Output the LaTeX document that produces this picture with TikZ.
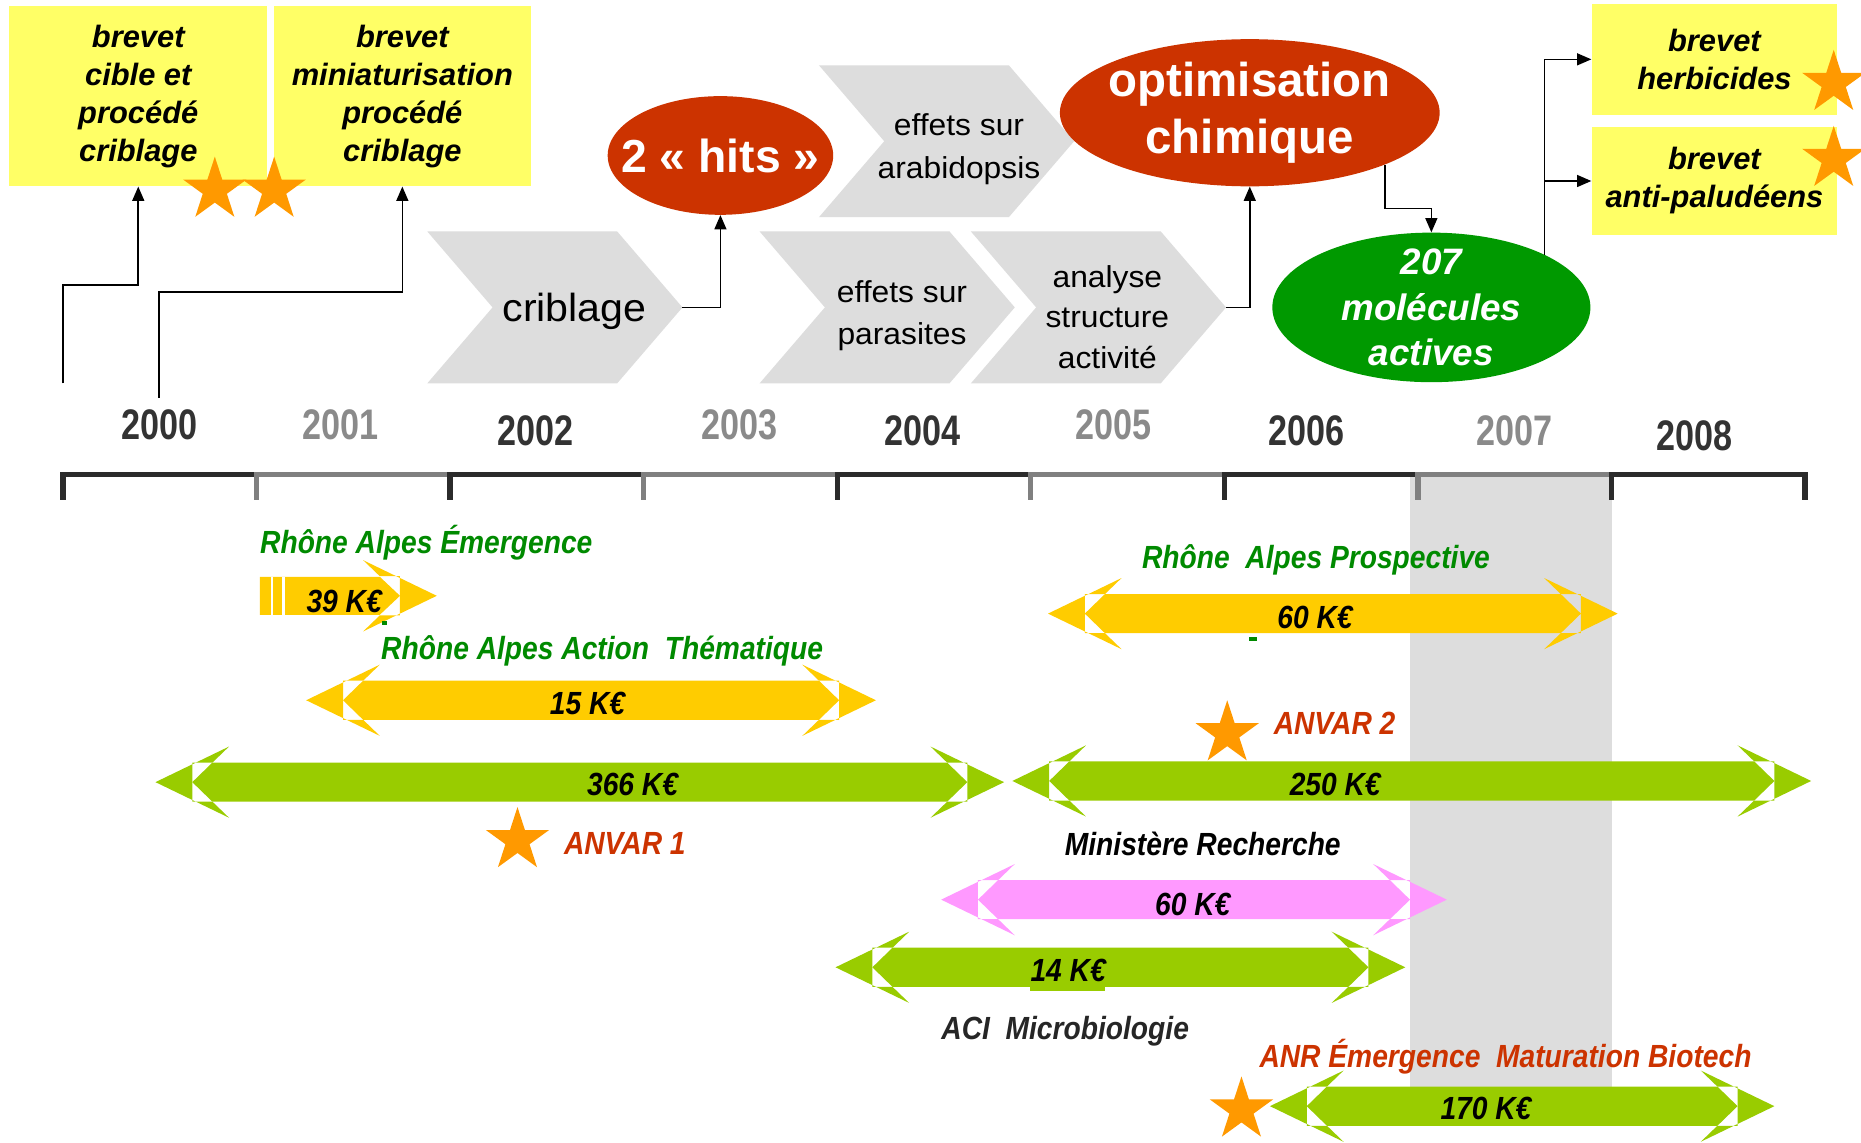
\documentclass[tikz,border=0pt]{standalone}
\usepackage{fontspec}
\setmainfont{Liberation Sans}
\newfontfamily\narrowfont[FakeStretch=0.88]{Liberation Sans}
\newfontfamily\yearfont[FakeStretch=0.8]{Liberation Sans}
\newfontfamily\widefont[FakeStretch=1.05]{Liberation Sans}
\usetikzlibrary{arrows.meta,shapes.geometric}

\definecolor{patentyellow}{HTML}{FFFF66}
\definecolor{starorange}{HTML}{FF9900}
\definecolor{hitsred}{HTML}{CC3300}
\definecolor{activegreen}{HTML}{009900}
\definecolor{chevgray}{HTML}{DDDDDD}
\definecolor{bandgray}{HTML}{DDDDDD}
\definecolor{fundyellow}{HTML}{FFCC00}
\definecolor{fundgreen}{HTML}{99CC00}
\definecolor{fundpink}{HTML}{FF99FF}
\definecolor{labgreen}{HTML}{008A00}
\definecolor{labred}{HTML}{CC3300}
\definecolor{aciblack}{HTML}{262626}
\definecolor{axdark}{HTML}{2B2B2B}
\definecolor{axgray}{HTML}{808080}
\definecolor{yrdark}{HTML}{333333}
\definecolor{yrgray}{HTML}{8A8A8A}

% chevron from its top left corner
\newcommand{\chevron}[2]{%
  \fill[chevgray] (#1,#2) -- ++(160,0) -- ++(55,64) -- ++(-55,64) -- ++(-160,0) -- ++(55,-64) -- cycle;}

% double funding arrow: left tip, right tip, middle line, colour
\newcommand{\fundbar}[4]{%
  \fill[#4] (#1,#3) -- ++(62,-30) -- ++(-14,13.5) -- ++(-17,0) -- ++(0,33) -- ++(17,0) -- ++(14,13.5) -- cycle;
  \fill[#4] (#2,#3) -- ++(-62,-30) -- ++(14,13.5) -- ++(17,0) -- ++(0,33) -- ++(-17,0) -- ++(-14,13.5) -- cycle;
  \fill[#4] ({#1+48},{#3-16.5}) -- ({#2-48},{#3-16.5}) -- ({#2-31},#3) -- ({#2-48},{#3+16.5}) -- ({#1+48},{#3+16.5}) -- ({#1+31},#3) -- cycle;}

\begin{document}
\begin{tikzpicture}[x=1pt, y=-1pt,
    patent/.style={fill=patentyellow, inner sep=0, align=center,
      font=\fontsize{26}{32}\selectfont\bfseries\itshape},
    blob/.style={ellipse, text=white, align=center},
    chevtext/.style={align=center, font=\widefont\fontsize{25.5}{36}\selectfont},
    fundlabel/.style={anchor=base west, inner sep=0,
      font=\narrowfont\fontsize{27}{30}\selectfont\bfseries\itshape},
    amount/.style={inner sep=0, font=\narrowfont\fontsize{27}{30}\selectfont\bfseries\itshape},
    yearlab/.style={inner sep=0, font=\yearfont\fontsize{36}{40}\selectfont\bfseries},
    award/.style={star, star points=5, star point ratio=2.618, fill=starorange,
      minimum size=56, inner sep=0},
    link/.style={-{Triangle[length=12pt,width=10pt]}, line width=1.4pt}]

    \useasboundingbox (0,0) rectangle (1568,963);
    \fill[white] (0,0) rectangle (1568,963);

    % Year 2007 band
    \fill[bandgray] (1188,402) rectangle (1358,916);

    % Patents
    \node[patent, minimum width=217, minimum height=152] (patCible) at (116.5,81)
        {brevet\\cible et\\procédé\\criblage};
    \node[patent, minimum width=216, minimum height=152] (patMini) at (339,81)
        {brevet\\miniaturisation\\procédé\\criblage};
    \node[patent, minimum width=207, minimum height=94] (patHerb) at (1444.5,50)
        {brevet\\herbicides};
    \node[patent, minimum width=207, minimum height=91] (patPalu) at (1444.5,152.5)
        {brevet\\anti-paludéens};
    \node[award] (starCible) at (181,160) {};
    \node[award] (starMini) at (231,160) {};
    \node[award] (starHerb) at (1545,70) {};
    \node[award] (starPalu) at (1545,134) {};

    % Work steps
    \chevron{360}{195}
    \chevron{690}{55}
    \chevron{640}{195}
    \chevron{818}{195}
    \node[chevtext, font=\widefont\fontsize{33}{36}\selectfont] (crib) at (484,262) {criblage};
    \node[chevtext] (arab) at (808,126) {effets sur\\arabidopsis};
    \node[chevtext] (para) at (760,266) {effets sur\\parasites};
    \node[chevtext, font=\widefont\fontsize{25.5}{34}\selectfont] (sar) at (933,267)
        {analyse\\structure\\activité};
    \coordinate (cribTip) at (575,259);
    \coordinate (sarTip) at (1033,259);

    % Results
    \node[blob, fill=hitsred, minimum width=190, minimum height=100, inner xsep=-30, inner ysep=-10,
        font=\fontsize{39}{46}\selectfont\bfseries] (hits) at (607,131) {2 « hits »};
    \node[blob, fill=hitsred, minimum width=320, minimum height=124, inner xsep=-40, inner ysep=-20,
        font=\fontsize{40}{48}\selectfont\bfseries] (optim) at (1053,95) {optimisation\\chimique};
    \node[blob, fill=activegreen, minimum width=268, minimum height=126, inner xsep=-10, inner ysep=-25,
        font=\fontsize{31}{38}\selectfont\bfseries\itshape] (actives) at (1206,259)
        {207\\molécules\\actives};

    % Links
    \coordinate (fromA) at (53,323);
    \coordinate (fromB) at (134,335);
    \draw[link] (fromA) -- ++(0,-83) -| (patCible.south);
    \draw[link] (fromB) -- ++(0,-89) -| (patMini.south);
    \draw[link] (cribTip) -| (hits.south);
    \draw[link] (sarTip) -| (optim.south);
    \draw[link] (optim.-21) -- ++(0,37) -| (actives.north);
    \draw[link] (actives.25) |- (patHerb.west);
    \draw[link] (actives.25) |- (patPalu.west);

    % Time axis
    \foreach \i/\yr/\acol/\tcol/\lx/\ly in {0/2000/axdark/yrdark/134/358, 1/2001/axgray/yrgray/287/358,
        2/2002/axdark/yrdark/451/363, 3/2003/axgray/yrgray/623/358, 4/2004/axdark/yrdark/777/363,
        5/2005/axgray/yrgray/938/358, 6/2006/axdark/yrdark/1101/363, 7/2007/axgray/yrgray/1276/363,
        8/2008/axdark/yrdark/1428/367}{
        \draw[\acol, line width=4.5] ({53+163.1*\i},421) -- ({53+163.1*\i},400)
            -- ({216.1+163.1*\i},400) -- ({216.1+163.1*\i},421);
        \node[yearlab, text=\tcol] (yr\yr) at (\lx,\ly) {\yr};
    }

    % Funding
    \fill[fundyellow] (219,486) -- (320,486) -- (337,502) -- (320,518) -- (219,518) -- cycle;
    \fill[fundyellow] (368,502) -- ++(-62,-30) -- ++(14,13.5) -- ++(17,0) -- ++(0,33) -- ++(-17,0) -- ++(-14,13.5) -- cycle;
    \fill[white] (228,486) rectangle (230,518);
    \fill[white] (238,486) rectangle (240,518);
    \fill[labgreen] (322,523) rectangle (326,527);
    \fundbar{258}{738}{590}{fundyellow}
    \fundbar{131}{846}{659}{fundgreen}
    \fundbar{883}{1363}{517}{fundyellow}
    \fill[labgreen] (1052,537) rectangle (1059,540);
    \fundbar{853}{1526}{658}{fundgreen}
    \fundbar{793}{1219}{758}{fundpink}
    \fundbar{704}{1184}{815}{fundgreen}
    \fill[fundgreen] (868,815) rectangle (931,835);
    \fundbar{1070}{1495}{932}{fundgreen}

    \node[fundlabel, text=labgreen] (raEmerg) at (219,466) {Rhône Alpes Émergence};
    \node[amount] (amt39) at (290,507) {39 K€};
    \node[fundlabel, text=labgreen] (raAction) at (321,556) {Rhône Alpes Action~ Thématique};
    \node[amount] (amt15) at (495,593) {15 K€};
    \node[amount] (amt366) at (533,661) {366 K€};
    \node[award] (starAnvarA) at (436,708) {};
    \node[fundlabel, text=labred] (anvarA) at (475,720) {ANVAR 1};
    \node[fundlabel, text=labgreen] (raProsp) at (962,479) {Rhône~ Alpes Prospective};
    \node[amount] (amt60a) at (1108,520) {60 K€};
    \node[award] (starAnvarB) at (1034,618) {};
    \node[fundlabel, text=labred] (anvarB) at (1073,619) {ANVAR 2};
    \node[amount] (amt250) at (1125,661) {250 K€};
    \node[fundlabel] (minRech) at (897,721) {Ministère Recherche};
    \node[amount] (amt60b) at (1005,762) {60 K€};
    \node[amount] (amt14) at (900,818) {14 K€};
    \node[fundlabel, text=aciblack] (aciMicro) at (793,876) {ACI~ Microbiologie};
    \node[fundlabel, text=labred] (anrEmerg) at (1061,899) {ANR Émergence~ Maturation Biotech};
    \node[award] (starAnr) at (1046,935) {};
    \node[amount] (amt170) at (1252,934) {170 K€};
\end{tikzpicture}
\end{document}
